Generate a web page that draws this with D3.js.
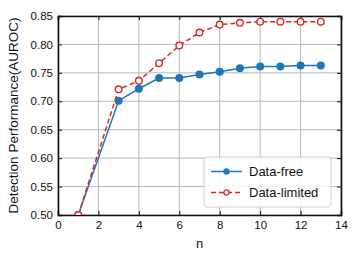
<!DOCTYPE html>
<html>
<head>
<meta charset="utf-8">
<script src="https://cdn.jsdelivr.net/npm/d3@7"></script>
<style>
  body { margin: 0; background: #fff; }
  text { font-family: "Liberation Sans", Arial, sans-serif; fill: #111; }
</style>
</head>
<body>
<script>
'use strict';

// values
const nValues = [1, 3, 4, 5, 6, 7, 8, 9, 10, 11, 12, 13];
const dataFree = [0.500, 0.701, 0.722, 0.741, 0.741, 0.747, 0.752, 0.758, 0.761, 0.761, 0.763, 0.763];
const dataLimited = [0.500, 0.721, 0.736, 0.767, 0.798, 0.821, 0.835, 0.838, 0.840, 0.840, 0.840, 0.840];
const xTicks = [0, 2, 4, 6, 8, 10, 12, 14];
const yTicks = [0.50, 0.55, 0.60, 0.65, 0.70, 0.75, 0.80, 0.85];
const seriesNames = ["Data-free", "Data-limited"];

const width = 358, height = 261;
const margin = { left: 58, right: 17, top: 16, bottom: 46 };

const svg = d3.select('body').append('svg')
  .attr('width', width)
  .attr('height', height);

const xScale = d3.scaleLinear().domain([0, 14]).range([margin.left, width - margin.right]);
const yScale = d3.scaleLinear().domain([0.5, 0.85]).range([height - margin.bottom, margin.top]);

// grid lines
svg.append('g').selectAll('line.vx')
  .data(xTicks)
  .enter().append('line')
  .attr('x1', d => xScale(d)).attr('x2', d => xScale(d))
  .attr('y1', yScale(0.5)).attr('y2', yScale(0.85))
  .attr('stroke', '#b8b8b8').attr('stroke-width', 1);

svg.append('g').selectAll('line.hy')
  .data(yTicks)
  .enter().append('line')
  .attr('x1', xScale(0)).attr('x2', xScale(14))
  .attr('y1', d => yScale(d)).attr('y2', d => yScale(d))
  .attr('stroke', '#b8b8b8').attr('stroke-width', 1);

// axes with inward ticks
const tickLen = 4;
const xAxis = d3.axisBottom(xScale).tickValues(xTicks).tickSize(-tickLen).tickPadding(6).tickFormat(d3.format('d'));
const yAxis = d3.axisLeft(yScale).tickValues(yTicks).tickSize(-tickLen).tickPadding(5).tickFormat(d3.format('.2f'));

svg.append('g').attr('transform', `translate(0, ${yScale(0.5)})`).call(xAxis);
svg.append('g').attr('transform', `translate(${xScale(0)}, 0)`).call(yAxis);
svg.append('g').attr('transform', `translate(0, ${yScale(0.85)})`)
  .call(d3.axisTop(xScale).tickValues(xTicks).tickSize(-tickLen).tickFormat(''));
svg.append('g').attr('transform', `translate(${xScale(14)}, 0)`)
  .call(d3.axisRight(yScale).tickValues(yTicks).tickSize(-tickLen).tickFormat(''));

svg.selectAll('.domain').attr('stroke', '#111').attr('stroke-width', 1.6);
svg.selectAll('.tick line').attr('stroke', '#111').attr('stroke-width', 1);
svg.selectAll('.tick text').style('font-size', '11.5px').style('font-family', '"Liberation Sans", Arial, sans-serif').attr('fill', '#111');

// clip lines and points to the plot area
svg.append('clipPath').attr('id', 'plotclip')
  .append('rect')
  .attr('x', xScale(0)).attr('y', yScale(0.85))
  .attr('width', xScale(14) - xScale(0))
  .attr('height', yScale(0.5) - yScale(0.85));

const plot = svg.append('g').attr('clip-path', 'url(#plotclip)');

const line = d3.line()
  .x(d => xScale(d[0]))
  .y(d => yScale(d[1]));

const freePts = nValues.map((n, i) => [n, dataFree[i]]);
const limitedPts = nValues.map((n, i) => [n, dataLimited[i]]);

const blue = '#1f77b4';
const red = '#d62728';

plot.append('path').datum(freePts)
  .attr('d', line).attr('fill', 'none')
  .attr('stroke', blue).attr('stroke-width', 1.5);

plot.selectAll('circle.free')
  .data(freePts)
  .enter().append('circle')
  .attr('cx', d => xScale(d[0])).attr('cy', d => yScale(d[1]))
  .attr('r', 4).attr('fill', blue);

plot.append('path').datum(limitedPts)
  .attr('d', line).attr('fill', 'none')
  .attr('stroke', red).attr('stroke-width', 1.5)
  .attr('stroke-dasharray', '5,3');

plot.selectAll('circle.lim')
  .data(limitedPts)
  .enter().append('circle')
  .attr('cx', d => xScale(d[0])).attr('cy', d => yScale(d[1]))
  .attr('r', 3.3).attr('fill', '#fff')
  .attr('stroke', red).attr('stroke-width', 1.4);

// axis labels
svg.append('text')
  .attr('x', (xScale(0) + xScale(14)) / 2)
  .attr('y', 248)
  .attr('text-anchor', 'middle')
  .style('font-size', '13px')
  .text('n');

svg.append('text')
  .attr('transform', `translate(18, ${(yScale(0.5) + yScale(0.85)) / 2}) rotate(-90)`)
  .attr('text-anchor', 'middle')
  .style('font-size', '13.5px')
  .text('Detection Performance(AUROC)');

// legend
const legend = svg.append('g').attr('transform', 'translate(204, 157)');
legend.append('rect')
  .attr('width', 127).attr('height', 50)
  .attr('rx', 3)
  .attr('fill', '#fff').attr('fill-opacity', 0.85)
  .attr('stroke', '#d0d0d0').attr('stroke-width', 1);

seriesNames.forEach((name, i) => {
  const y = 14.5 + i * 21;
  const g = legend.append('g').attr('transform', `translate(0, ${y})`);
  g.append('line')
    .attr('x1', 7).attr('x2', 38).attr('y1', 0).attr('y2', 0)
    .attr('stroke', i === 0 ? blue : red).attr('stroke-width', 1.5)
    .attr('stroke-dasharray', i === 0 ? null : '5,3');
  g.append('circle')
    .attr('cx', 22.5).attr('cy', 0)
    .attr('r', i === 0 ? 3.2 : 2.6)
    .attr('fill', i === 0 ? blue : '#fff')
    .attr('stroke', i === 0 ? 'none' : red).attr('stroke-width', 1.3);
  g.append('text')
    .attr('x', 45).attr('y', 0)
    .attr('dy', '0.35em')
    .style('font-size', '13px')
    .text(name);
});
</script>
</body>
</html>
